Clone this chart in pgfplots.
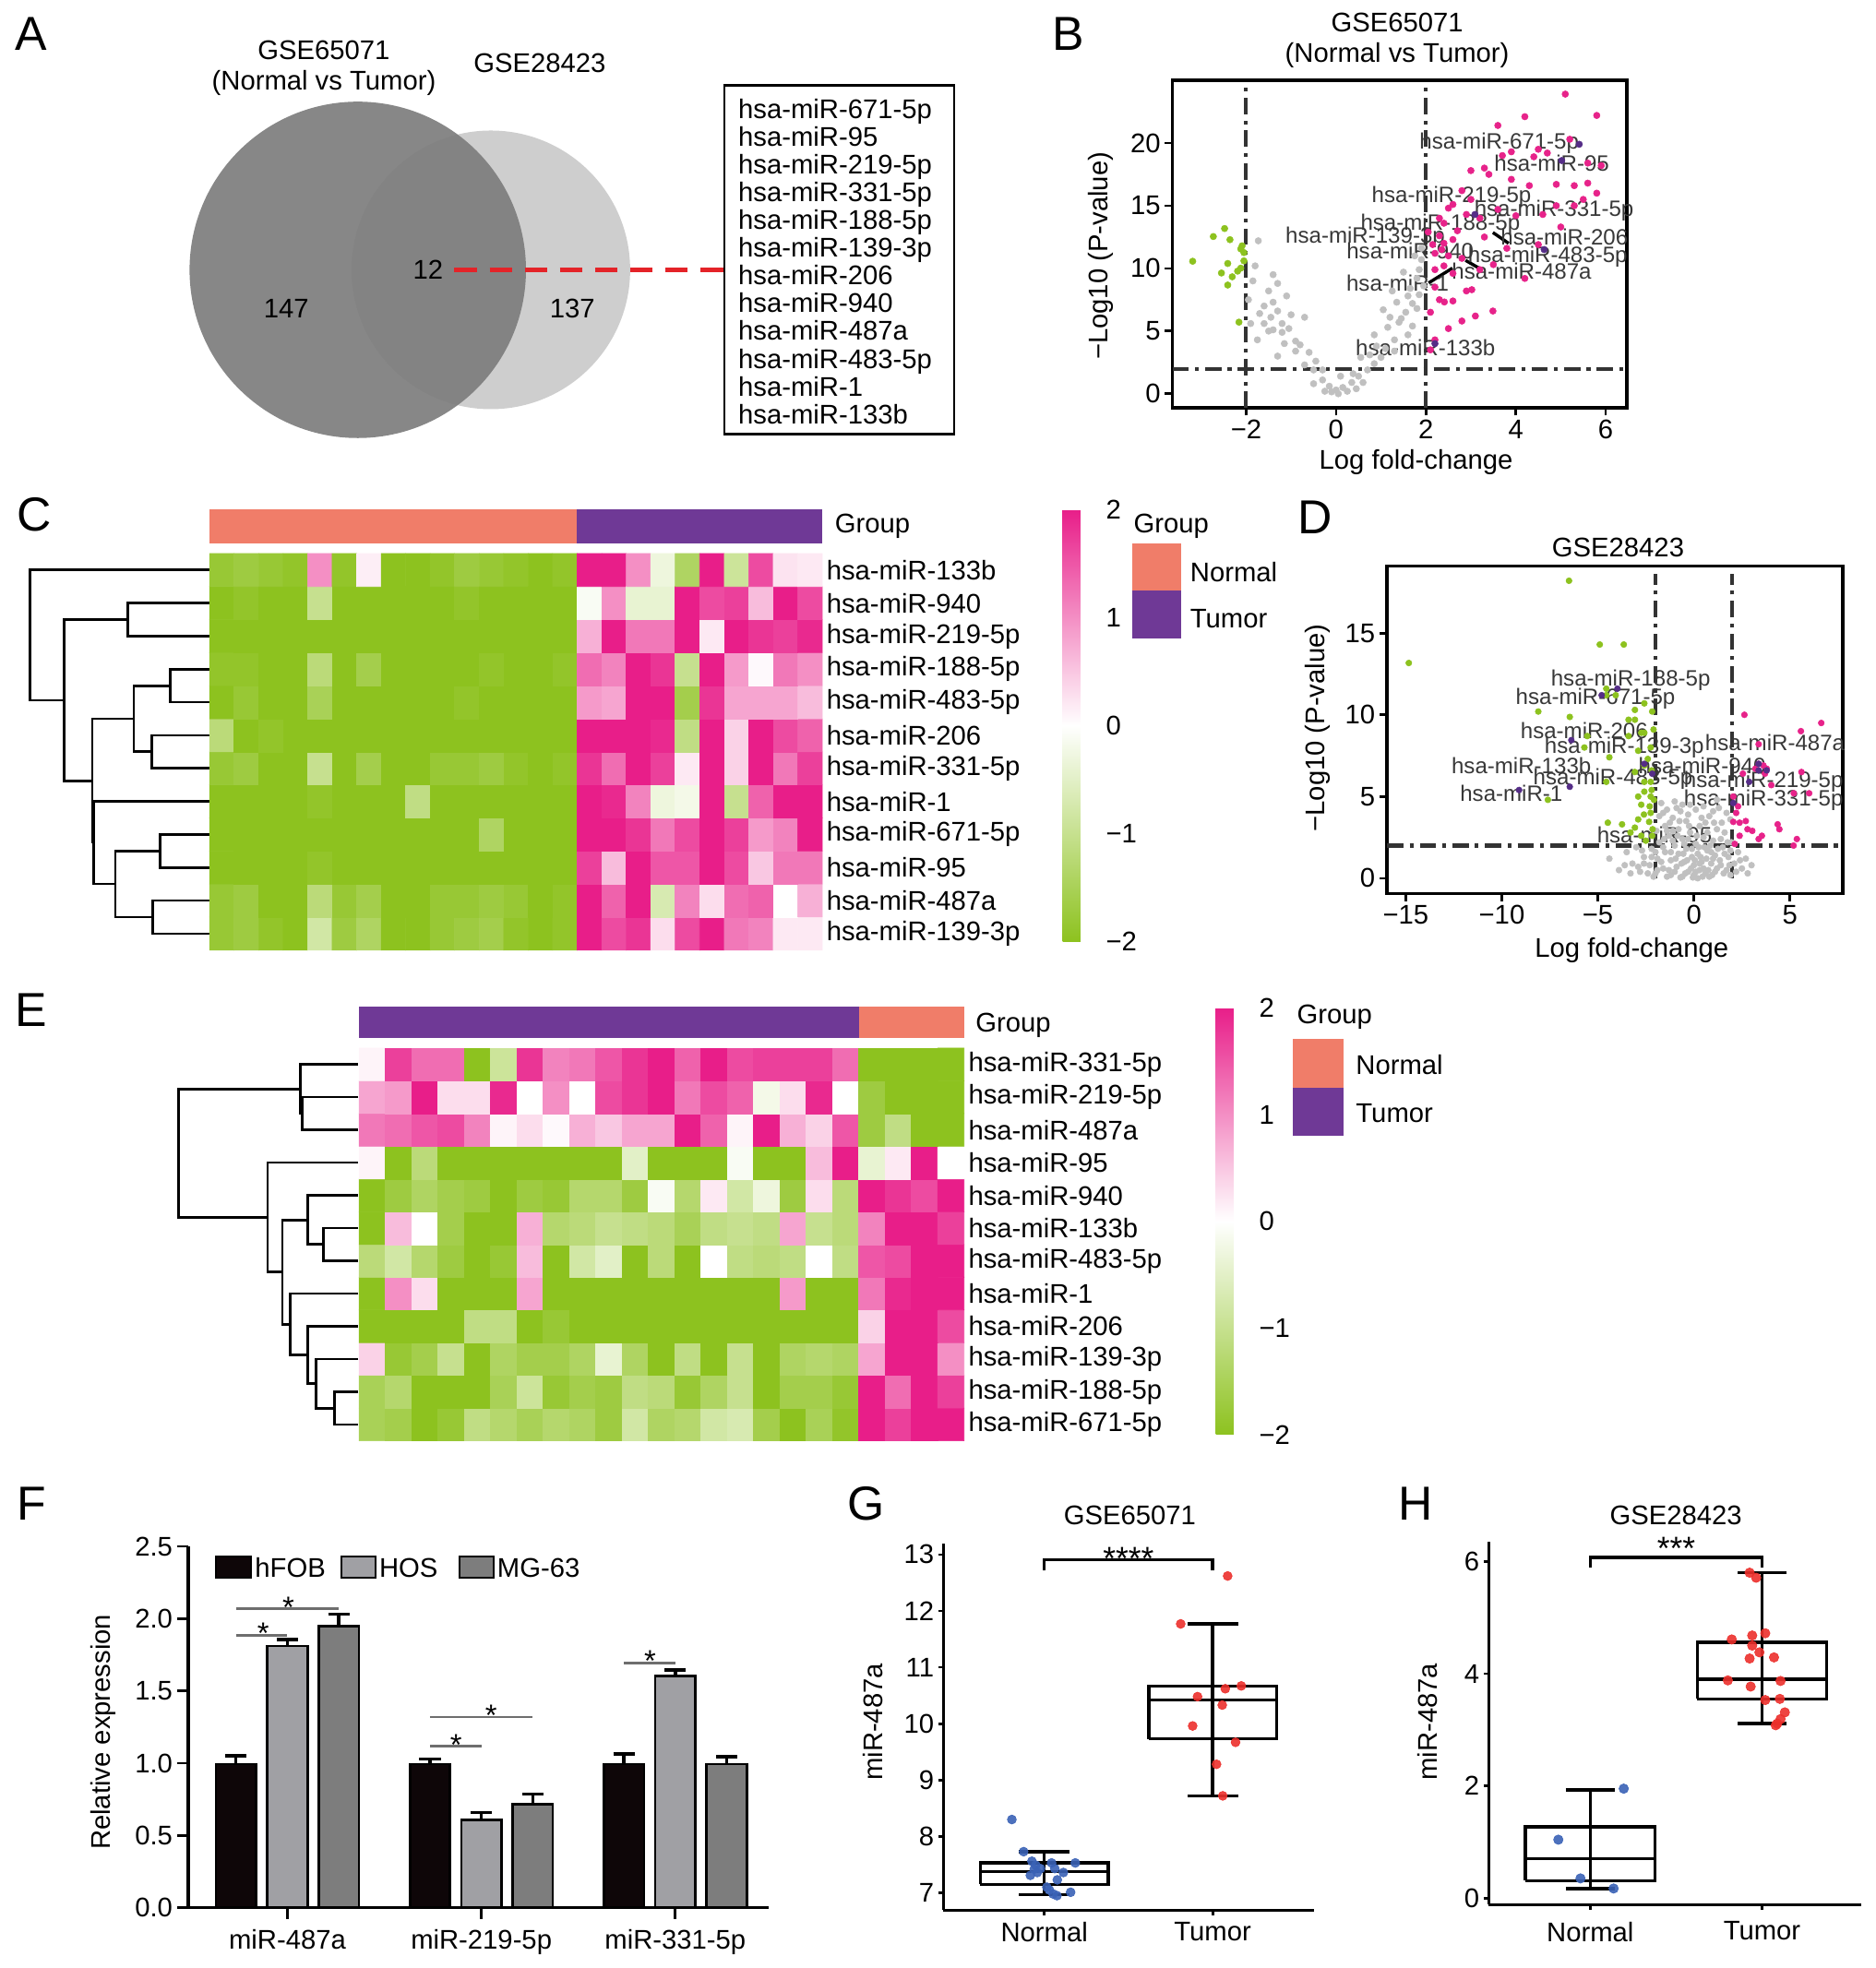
\documentclass[border=0pt]{standalone}
\usepackage{fontspec}
\setmainfont{Liberation Sans}
\usepackage{pgfplots}
\pgfplotsset{compat=1.18}
\definecolor{vgreen}{RGB}{141,194,31}
\definecolor{vmag}{RGB}{231,35,138}
\definecolor{vgray}{RGB}{192,192,192}
\definecolor{vpur}{RGB}{85,45,135}
\definecolor{gsalmon}{RGB}{240,125,105}
\definecolor{gpurple}{RGB}{111,57,150}
\definecolor{ptblue}{RGB}{58,98,182}
\definecolor{ptred}{RGB}{236,48,44}
\definecolor{vdark}{RGB}{126,126,126}
\definecolor{vlight}{RGB}{206,206,206}
\definecolor{venred}{RGB}{228,35,40}
\definecolor{barblack}{RGB}{14,6,8}
\definecolor{barlight}{RGB}{160,160,164}
\definecolor{bardark}{RGB}{125,125,125}
\definecolor{sigline}{RGB}{110,110,110}
\newcommand\fs{\fontsize{21.5}{25}\selectfont}
\newcommand\fl{\fontsize{17.7}{20}\selectfont}
\newcommand\fL{\fontsize{38}{42}\selectfont}
\tikzset{vlab/.style={font=\fl, text=black!78, inner sep=0pt}}
\pgfplotsset{
  myb/.style={scale only axis, anchor=north west,
    /pgf/number format/assume math mode=true,
    tick label style={font=\fs}, label style={font=\fs},
    every tick/.style={black, line width=2pt},
    axis line style={line width=2.5pt}},
  volc/.style={myb, tick align=outside, tick pos=left, major tick length=6pt,
    ylabel={−Log10 (P-value)}, xlabel={Log fold-change}, clip=false},
  dpat/.style={line width=3pt, black!80, dash pattern=on 13pt off 5pt on 3pt off 5pt},
  heat/.style={myb, xmin=0.5, ymin=0.5, ymax=12.5, axis line style={draw=none},
    major tick length=0pt, xtick=\empty, ytick={1,...,12}, yticklabel pos=right,
    yticklabel style={anchor=west, font=\fs},
    colormap={hm}{rgb255=(141,194,31) rgb255=(255,255,255) rgb255=(232,30,137)},
    point meta min=-2, point meta max=2, clip=false, colorbar},
  cbar/.style={scale only axis, width=27pt, y dir=normal,
    ytick={-2,-1,0,1,2}, yticklabels={−2,−1,0,1,2}, yticklabel pos=right,
    yticklabel style={font=\fs, anchor=west, xshift=4pt},
    major tick length=0pt, axis line style={draw=none}, xtick=\empty},
  dend/.style={scale only axis, anchor=north west, hide axis, ymin=0.5, ymax=12.5, xmax=625, clip=false},
  dl/.style={black, line width=2pt},
  bxax/.style={myb, axis x line=bottom, axis y line=left, axis line style={-, line width=2.5pt},
    tick align=outside, major tick length=4pt, xtick={1,2}, xticklabels={Normal,Tumor}, clip=false},
  bl/.style={black, line width=2.5pt},
  ebar/.style={error bars/.cd, y dir=plus, y explicit, error bar style={line width=2.5pt, black},
    error mark options={rotate=90, line width=2.5pt, black, mark size=8.5pt}},
}
\begin{document}
\begin{tikzpicture}
\path[use as bounding box] (0pt,0pt) rectangle (1494pt,-1568pt);

% ---------------- Panel A : Venn ----------------
\begin{axis}[scale only axis, anchor=north west, at={(130pt,-60pt)}, width=390pt, height=310pt,
  xmin=130, xmax=520, ymin=-370, ymax=-60, hide axis, clip=false]
\fill[vlight] (axis cs:391,-215) circle[radius=111pt];
\fill[vdark, opacity=0.93] (axis cs:285,-215) circle[radius=134pt];
\end{axis}
\node[font=\fs] at (258pt,-40pt) {GSE65071};
\node[font=\fs] at (258pt,-66pt) {(Normal vs Tumor)};
\node[font=\fs] at (430pt,-50pt) {GSE28423};
\node[font=\fs] at (228pt,-246pt) {147};
\node[font=\fs] at (341pt,-215pt) {12};
\node[font=\fs] at (456pt,-246pt) {137};
\draw[venred, line width=3pt, dash pattern=on 18pt off 10pt] (362pt,-215pt) -- (577pt,-215pt);
\draw[line width=2pt] (577pt,-68pt) rectangle (760pt,-346pt);
\foreach \t [count=\i from 0] in {hsa-miR-671-5p,hsa-miR-95,hsa-miR-219-5p,hsa-miR-331-5p,hsa-miR-188-5p,hsa-miR-139-3p,hsa-miR-206,hsa-miR-940,hsa-miR-487a,hsa-miR-483-5p,hsa-miR-1,hsa-miR-133b}
  \node[font=\fs, anchor=base west, inner sep=0pt] at (588pt,{-94.5pt-22.09pt*\i}) {\t};

% ---------------- Panel B : volcano GSE65071 ----------------
\node[font=\fs] at (1113pt,-18pt) {GSE65071};
\node[font=\fs] at (1113pt,-44pt) {(Normal vs Tumor)};
\begin{axis}[volc, at={(934pt,-64pt)}, width=362pt, height=261pt,
  xmin=-3.64, xmax=6.47, ymin=-1.13, ymax=25.0,
  xtick={-2,0,2,4,6}, xticklabels={−2,0,2,4,6}, ytick={0,5,10,15,20},
  xlabel style={at={(axis description cs:0.536,-0.165)}, anchor=center},
  ylabel style={at={(axis description cs:-0.157,0.464)}, anchor=center}]
\addplot[only marks, mark=*, mark size=2.6pt, vgray, mark options={draw=none}] coordinates {
(-1.73,12.2) (-1.8,10.2) (-1.4,9.5) (-1.3,8.8) (-1.5,8.2) (-1.1,7.8) (-1.4,7.3) (-1.3,6.6) (-1.7,6.4) (-1.0,6.3) (-0.7,6.1) (-1.6,5.6) (-1.4,5.1) (-1.2,4.9) (-0.9,4.2) (-0.8,3.9) (-0.6,3.3) (-0.7,2.3) (-0.5,1.9) (-0.3,1.1) (-0.15,0.6) (0,0.3) (0.15,0.5) (0.35,0.9) (0.5,1.4) (0.7,1.9) (0.85,2.4) (1.0,2.9) (1.1,3.6) (1.3,4.3) (1.15,5.3) (1.4,5.7) (1.55,6.5) (1.7,7.2) (1.85,7.9) (1.65,8.4) (1.8,9.2) (1.85,9.9) (1.9,10.7) (1.5,9.7) (1.25,8.2) (1.05,6.7) (0.85,4.7) (0.55,2.9) (0.38,1.6) (0.1,1.4) (-0.3,1.9) (-0.45,2.6) (-0.9,3.4) (-1.15,4.0) (-1.5,5.0) (-1.75,4.3) (-1.9,5.6) (-1.95,7.5) (-1.6,7.0) (1.6,4.7) (1.3,3.4) (0.9,3.8) (1.7,5.4) (-1.2,5.6) (0.05,0.0) (-0.1,0.15) (0.25,0.2) (0.6,0.9) (-0.5,0.8) (1.9,11.6) (1.75,11.0) (1.95,8.6) (-1.85,9.0) (-1.3,3.0) (1.45,6.0) (1.6,7.8) (1.2,6.1) (0.75,3.1) (-1.05,5.2) (-1.45,6.1) (-0.25,0.2) (0.45,0.4) (1.8,6.8) (1.35,7.3)};
\addplot[only marks, mark=*, mark size=2.6pt, vgreen, mark options={draw=none}] coordinates {
(-2.73,12.54) (-2.48,13.18) (-2.36,12.29) (-2.12,11.55) (-2.05,11.26) (-3.19,10.57) (-2.41,10.39) (-2.55,9.63) (-2.31,9.33) (-2.41,8.67) (-2.12,10.02) (-2.16,5.71) (-2.09,11.8) (-2.19,9.78) (-2.05,10.6)};
\addplot[only marks, mark=*, mark size=2.6pt, vmag, mark options={draw=none}] coordinates {
(5.1,23.9) (4.2,22.1) (5.8,22.2) (3.6,21.4) (5.2,20.3) (4.5,19.5) (3.9,19.3) (3.3,18.0) (3.7,19.0) (4.4,18.9) (4.7,19.2) (5.9,18.2) (5.6,18.4) (3.4,17.5) (3.0,17.8) (3.9,17.1) (4.3,16.6) (4.9,16.7) (5.3,16.6) (5.6,16.8) (5.8,16.0) (5.5,15.5) (5.3,15.0) (2.8,16.2) (3.0,15.5) (2.6,15.1) (2.5,14.8) (2.9,14.3) (3.2,14.0) (3.6,14.7) (4.0,14.2) (4.6,14.3) (5.0,13.3) (2.4,13.6) (2.7,13.0) (2.3,12.6) (2.6,12.3) (3.3,12.5) (3.8,11.6) (4.5,11.9) (2.2,11.2) (2.5,11.0) (2.8,10.8) (2.4,10.2) (2.2,9.9) (2.6,9.6) (3.2,9.9) (4.2,9.2) (3.5,10.3) (2.9,8.2) (2.3,7.5) (2.6,7.4) (2.1,6.5) (3.1,6.2) (2.5,5.2) (2.8,5.8) (2.2,4.3) (2.1,3.5) (2.2,8.5) (2.4,12.0) (2.15,11.9) (2.35,11.5) (2.05,12.9) (3.49,6.6) (3.02,8.3) (2.41,7.32) (2.3,14.0) (4.9,15.0)};
\addplot[only marks, mark=*, mark size=2.6pt, vpur, mark options={draw=none}] coordinates {
(5.41,19.9) (5.02,18.6) (3.09,14.3) (4.63,11.5) (2.2,4.0)};
\addplot[dpat] coordinates {(-2,-1.13) (-2,24.6)};
\addplot[dpat] coordinates {(2,-1.13) (2,24.6)};
\addplot[dpat] coordinates {(-3.64,2) (6.47,2)};
\draw[black, line width=2.5pt] (axis cs:3.49,12.86) -- (axis cs:3.84,12.0);
\draw[black, line width=2.5pt] (axis cs:2.88,10.64) -- (axis cs:3.2,9.98);
\draw[black, line width=2.5pt] (axis cs:2.06,8.84) -- (axis cs:2.59,10.02);
\node[vlab] at (axis cs:3.63,20.0) {hsa-miR-671-5p};
\node[vlab] at (axis cs:4.80,18.4) {hsa-miR-95};
\node[vlab] at (axis cs:2.57,15.7) {hsa-miR-219-5p};
\node[vlab] at (axis cs:4.85,14.6) {hsa-miR-331-5p};
\node[vlab] at (axis cs:2.32,13.5) {hsa-miR-188-5p};
\node[vlab] at (axis cs:0.65,12.5) {hsa-miR-139-3p};
\node[vlab] at (axis cs:5.08,12.5) {hsa-miR-206};
\node[vlab] at (axis cs:1.65,11.4) {hsa-miR-940};
\node[vlab] at (axis cs:4.71,10.9) {hsa-miR-483-5p};
\node[vlab] at (axis cs:4.13,9.75) {hsa-miR-487a};
\node[vlab] at (axis cs:1.37,8.8) {hsa-miR-1};
\node[vlab] at (axis cs:1.99,3.7) {hsa-miR-133b};
\end{axis}

% ---------------- Panel C : heatmap GSE65071 ----------------
\begin{axis}[dend, at={(24pt,-441pt)}, width=143.7pt, height=316pt, xmin=38]
\addplot[dl] coordinates {(625,12) (38,12) (38,8.06) (148,8.06)};
\addplot[dl] coordinates {(355,10.51) (148,10.51) (148,5.61) (240,5.61)};
\addplot[dl] coordinates {(625,11) (355,11) (355,10) (625,10)};
\addplot[dl] coordinates {(375,7.5) (240,7.5) (240,3.76) (245,3.76)};
\addplot[dl] coordinates {(495,8.5) (375,8.5) (375,6.5) (433,6.5)};
\addplot[dl] coordinates {(625,9) (495,9) (495,8) (625,8)};
\addplot[dl] coordinates {(625,7) (433,7) (433,6) (625,6)};
\addplot[dl] coordinates {(625,5) (245,5) (245,2.5) (315,2.5)};
\addplot[dl] coordinates {(460,3.5) (315,3.5) (315,1.5) (437,1.5)};
\addplot[dl] coordinates {(625,4) (460,4) (460,3) (625,3)};
\addplot[dl] coordinates {(625,2) (437,2) (437,1) (625,1)};
\end{axis}
\begin{axis}[heat, at={(167pt,-441pt)}, width=488pt, height=316pt, xmax=25.5,
  yticklabels={hsa-miR-139-3p,hsa-miR-487a,hsa-miR-95,hsa-miR-671-5p,hsa-miR-1,hsa-miR-331-5p,hsa-miR-206,hsa-miR-483-5p,hsa-miR-188-5p,hsa-miR-219-5p,hsa-miR-940,hsa-miR-133b},
  colorbar style={cbar, at={(parent axis.north east)}, anchor=north west, xshift=183pt, yshift=35pt, height=344pt}]
\addplot[matrix plot*, mesh/cols=25, point meta=explicit] table[meta=c, row sep=\\]{
x y c\\
1 1 -1.8\\2 1 -1.7\\3 1 -1.9\\4 1 -2\\5 1 -0.8\\6 1 -1.7\\7 1 -1.4\\8 1 -2\\9 1 -2\\10 1 -1.8\\11 1 -1.7\\12 1 -1.6\\13 1 -1.9\\14 1 -2\\15 1 -1.9\\16 1 2\\17 1 1.6\\18 1 1.8\\19 1 0.3\\20 1 1.6\\21 1 2\\22 1 1.2\\23 1 1.1\\24 1 0.2\\25 1 0.2\\
1 2 -1.8\\2 2 -1.7\\3 2 -2\\4 2 -2\\5 2 -1.2\\6 2 -1.8\\7 2 -1.6\\8 2 -2\\9 2 -2\\10 2 -1.8\\11 2 -1.8\\12 2 -1.7\\13 2 -1.8\\14 2 -2\\15 2 -1.9\\16 2 2\\17 2 1.4\\18 2 2\\19 2 -0.7\\20 2 1.1\\21 2 0.3\\22 2 1.3\\23 2 1.4\\24 2 0\\25 2 0.7\\
1 3 -2\\2 3 -2\\3 3 -2\\4 3 -2\\5 3 -1.9\\6 3 -2\\7 3 -2\\8 3 -2\\9 3 -2\\10 3 -2\\11 3 -2\\12 3 -2\\13 3 -2\\14 3 -2\\15 3 -2\\16 3 1.7\\17 3 0.6\\18 3 2\\19 3 1.5\\20 3 1.5\\21 3 2\\22 3 1.6\\23 3 0.5\\24 3 1.2\\25 3 1.2\\
1 4 -2\\2 4 -2\\3 4 -2\\4 4 -2\\5 4 -2\\6 4 -2\\7 4 -2\\8 4 -2\\9 4 -2\\10 4 -2\\11 4 -2\\12 4 -1.4\\13 4 -2\\14 4 -2\\15 4 -2\\16 4 2\\17 4 2\\18 4 1.8\\19 4 1.2\\20 4 1.6\\21 4 2\\22 4 1.7\\23 4 0.9\\24 4 1.1\\25 4 2\\
1 5 -2\\2 5 -2\\3 5 -2\\4 5 -2\\5 5 -1.9\\6 5 -2\\7 5 -2\\8 5 -2\\9 5 -1.1\\10 5 -2\\11 5 -2\\12 5 -2\\13 5 -2\\14 5 -2\\15 5 -2\\16 5 2\\17 5 1.9\\18 5 1.1\\19 5 -0.3\\20 5 -0.2\\21 5 2\\22 5 -1.0\\23 5 1.4\\24 5 2\\25 5 2\\
1 6 -1.8\\2 6 -1.7\\3 6 -2\\4 6 -2\\5 6 -1.0\\6 6 -2\\7 6 -1.6\\8 6 -2\\9 6 -2\\10 6 -1.8\\11 6 -1.8\\12 6 -1.7\\13 6 -1.9\\14 6 -2\\15 6 -1.9\\16 6 1.8\\17 6 1.3\\18 6 2\\19 6 1.7\\20 6 0.2\\21 6 2\\22 6 0.4\\23 6 2\\24 6 1.2\\25 6 1.7\\
1 7 -1.2\\2 7 -2\\3 7 -1.9\\4 7 -2\\5 7 -2\\6 7 -2\\7 7 -2\\8 7 -2\\9 7 -2\\10 7 -2\\11 7 -2\\12 7 -2\\13 7 -2\\14 7 -2\\15 7 -2\\16 7 2\\17 7 2\\18 7 2\\19 7 1.9\\20 7 -1.1\\21 7 2\\22 7 0.4\\23 7 2\\24 7 1.6\\25 7 1.4\\
1 8 -2\\2 8 -1.8\\3 8 -2\\4 8 -2\\5 8 -1.5\\6 8 -2\\7 8 -2\\8 8 -2\\9 8 -2\\10 8 -2\\11 8 -1.9\\12 8 -2\\13 8 -2\\14 8 -2\\15 8 -2\\16 8 0.9\\17 8 0.8\\18 8 2\\19 8 2\\20 8 -1.6\\21 8 1.8\\22 8 0.8\\23 8 0.8\\24 8 0.8\\25 8 0.6\\
1 9 -1.9\\2 9 -1.9\\3 9 -2\\4 9 -2\\5 9 -1.2\\6 9 -2\\7 9 -1.6\\8 9 -2\\9 9 -2\\10 9 -2\\11 9 -2\\12 9 -1.9\\13 9 -2\\14 9 -2\\15 9 -1.9\\16 9 1.3\\17 9 1.1\\18 9 2\\19 9 1.8\\20 9 -1.0\\21 9 2\\22 9 0.9\\23 9 0.05\\24 9 1.2\\25 9 1.0\\
1 10 -2\\2 10 -2\\3 10 -2\\4 10 -2\\5 10 -2\\6 10 -2\\7 10 -2\\8 10 -2\\9 10 -2\\10 10 -2\\11 10 -2\\12 10 -2\\13 10 -2\\14 10 -2\\15 10 -2\\16 10 0.7\\17 10 2\\18 10 1.2\\19 10 1.2\\20 10 2\\21 10 0.2\\22 10 2\\23 10 1.8\\24 10 1.7\\25 10 1.9\\
1 11 -2\\2 11 -1.9\\3 11 -2\\4 11 -2\\5 11 -1.0\\6 11 -2\\7 11 -2\\8 11 -2\\9 11 -2\\10 11 -2\\11 11 -1.9\\12 11 -2\\13 11 -2\\14 11 -2\\15 11 -2\\16 11 -0.1\\17 11 1.0\\18 11 -0.4\\19 11 -0.4\\20 11 2\\21 11 1.6\\22 11 1.7\\23 11 0.6\\24 11 2\\25 11 1.6\\
1 12 -1.8\\2 12 -1.7\\3 12 -1.8\\4 12 -1.9\\5 12 1.0\\6 12 -1.9\\7 12 0.15\\8 12 -2\\9 12 -2\\10 12 -1.9\\11 12 -1.7\\12 12 -1.8\\13 12 -1.9\\14 12 -2\\15 12 -1.9\\16 12 2\\17 12 2\\18 12 1.0\\19 12 -0.3\\20 12 -1.4\\21 12 2\\22 12 -0.9\\23 12 1.6\\24 12 0.25\\25 12 0.2\\
};
\fill[gsalmon] (axis cs:0.5,12.80) rectangle (axis cs:15.5,13.83);
\fill[gpurple] (axis cs:15.5,12.80) rectangle (axis cs:25.5,13.83);
\end{axis}
\node[font=\fs, anchor=west, inner sep=0pt] at (665pt,-419pt) {Group};
\node[font=\fs, anchor=west, inner sep=0pt] at (903pt,-419pt) {Group};
\fill[gsalmon] (902pt,-433pt) rectangle (941pt,-470.6pt);
\fill[gpurple] (902pt,-470.6pt) rectangle (941pt,-508.6pt);
\node[font=\fs, anchor=west, inner sep=0pt] at (948pt,-456pt) {Normal};
\node[font=\fs, anchor=west, inner sep=0pt] at (948pt,-492.6pt) {Tumor};

% ---------------- Panel D : volcano GSE28423 ----------------
\node[font=\fs] at (1289pt,-436pt) {GSE28423};
\begin{axis}[volc, at={(1105pt,-451pt)}, width=363pt, height=261pt,
  xmin=-15.97, xmax=7.75, ymin=-0.94, ymax=19.1,
  xtick={-15,-10,-5,0,5}, xticklabels={−15,−10,−5,0,5}, ytick={0,5,10,15},
  xlabel style={at={(axis description cs:0.537,-0.172)}, anchor=center},
  ylabel style={at={(axis description cs:-0.152,0.506)}, anchor=center}]
\addplot[only marks, mark=*, mark size=2.4pt, vgray, mark options={draw=none}] coordinates {
(-4.4,1.2) (-3.9,0.5) (-3.5,1.6) (-3.2,0.9) (-3.0,1.9) (-2.8,0.4) (-2.6,1.3) (-2.3,0.8) (-2.2,1.8) (-2.0,0.3) (-1.95,2.9) (-1.9,1.2) (-1.8,3.8) (-1.8,2.2) (-1.7,4.6) (-1.6,0.6) (-1.5,1.6) (-1.5,3.2) (-1.4,4.2) (-1.3,2.6) (-1.2,0.2) (-1.2,1.1) (-1.1,3.7) (-1.0,2.0) (-1.0,4.7) (-0.9,0.7) (-0.8,1.5) (-0.8,3.0) (-0.7,4.1) (-0.6,0.1) (-0.6,2.4) (-0.5,1.0) (-0.4,3.5) (-0.4,1.8) (-0.3,0.4) (-0.2,2.8) (-0.1,1.3) (0,0.2) (0,0.8) (0.1,2.1) (0.2,1.5) (0.3,0.5) (0.3,3.2) (0.4,1.0) (0.5,2.5) (0.6,0.3) (0.7,1.7) (0.8,3.8) (0.9,0.9) (1.0,2.3) (1.1,0.4) (1.1,1.4) (1.2,3.0) (1.3,4.3) (1.4,0.8) (1.5,1.9) (1.6,2.8) (1.7,0.5) (1.8,1.3) (1.9,3.6) (1.95,2.2) (2.1,0.9) (2.3,1.6) (2.5,0.6) (2.7,1.2) (3.0,0.8) (1.7,4.0) (0.5,4.4) (-0.2,4.5) (1.4,2.4) (-2.9,0.7) (-1.4,0.1) (0.8,0.1) (-0.7,0.05) (0.2,0.0) (1.9,0.2) (-2.1,0.1) (2.8,0.3) (-1.1,2.9) (0.9,1.6) (-0.3,3.9) (0.6,3.4) (1.2,4.8) (-1.6,4.0)
(-2.4,0.3) (-2.6,0.9) (-2.2,1.3) (-1.9,0.5) (-1.7,1.0) (-1.6,1.9) (-1.3,0.5) (-1.2,1.6) (-1.1,2.3) (-1.0,0.4) (-0.95,1.2) (-0.85,2.6) (-0.75,3.5) (-0.65,0.9) (-0.55,1.5) (-0.5,2.1) (-0.45,0.3) (-0.35,1.1) (-0.3,2.4) (-0.25,3.2) (-0.15,0.6) (-0.1,1.8) (-0.05,0.05) (0.05,1.1) (0.1,0.4) (0.15,2.6) (0.25,1.9) (0.3,0.9) (0.35,1.3) (0.45,0.1) (0.5,0.6) (0.55,1.9) (0.65,1.2) (0.7,2.8) (0.75,0.5) (0.85,2.0) (0.95,0.2) (1.0,1.2) (1.05,3.4) (1.2,0.6) (1.25,1.8) (1.35,1.1) (1.45,3.4) (1.55,0.3) (1.6,1.5) (1.75,2.2) (1.85,0.8) (1.9,1.7) (2.2,0.4) (2.4,1.1) (-1.4,2.9) (-1.25,3.4) (-1.55,2.4) (-0.9,4.3) (-0.6,4.5) (0.1,4.2) (0.4,3.7) (1.0,4.1) (-2.0,1.6) (-3.3,0.3) (-2.7,1.7) (-3.6,0.8)};
\addplot[only marks, mark=*, mark size=2.4pt, vgreen, mark options={draw=none}] coordinates {
(-14.84,13.17) (-6.5,18.2) (-4.9,14.3) (-3.65,14.3) (-8.1,10.2) (-6.46,9.87) (-4.56,11.6) (-4.07,11.2) (-3.07,10.3) (-2.58,10.7) (-2.17,10.2) (-3.07,9.7) (-2.74,8.9) (-3.4,8.7) (-5.55,8.7) (-5.7,8.0) (-4.4,7.4) (-2.9,7.8) (-2.58,6.9) (-3.07,6.5) (-4.56,5.9) (-2.25,5.9) (-2.58,5.3) (-2.08,4.8) (-2.74,4.5) (-2.25,4.0) (-2.9,3.6) (-2.33,3.45) (-4.48,3.4) (-3.74,3.3) (-3.07,3.1) (-7.6,4.8) (-2.58,8.9) (-2.25,8.0) (-3.4,9.7) (-4.56,11.2) (-2.58,5.9) (-2.25,5.0) (-2.74,2.6) (-2.17,2.6) (-2.4,7.3) (-2.2,6.6) (-2.1,9.1) (-2.9,5.0) (-2.3,4.4) (-2.6,3.9) (-2.15,3.0) (-2.5,2.3) (-3.3,2.8) (-2.2,5.4)};
\addplot[only marks, mark=*, mark size=2.4pt, vmag, mark options={draw=none}] coordinates {
(2.63,10.0) (5.57,9.0) (6.63,9.5) (3.37,8.2) (3.37,7.0) (3.62,6.9) (3.79,6.7) (2.55,6.4) (4.03,5.7) (5.6,6.5) (6.0,5.2) (5.2,5.2) (2.2,4.0) (2.05,5.0) (2.7,3.5) (3.04,2.9) (3.37,2.4) (2.38,2.6) (4.45,3.0) (5.36,2.4) (5.19,2.0) (2.13,2.1) (2.38,3.4) (2.79,3.0) (3.54,2.6) (2.05,3.45) (2.3,4.4) (4.36,3.3) (3.7,6.4) (3.2,6.7)};
\addplot[only marks, mark=*, mark size=2.4pt, vpur, mark options={draw=none}] coordinates {
(-6.38,8.45) (-4.8,11.2) (-3.98,11.6) (-6.46,5.6) (-9.1,5.4) (-2.58,7.0) (-2.17,6.4) (3.37,6.6) (3.79,6.6) (2.88,5.9) (2.05,4.6) (3.37,7.0)};
\addplot[dpat] coordinates {(-2,0) (-2,18.6)};
\addplot[dpat] coordinates {(2,0) (2,18.6)};
\addplot[dpat] coordinates {(-15.97,2) (7.75,2)};
\node[vlab] at (axis cs:-3.29,12.1) {hsa-miR-188-5p};
\node[vlab] at (axis cs:-5.12,10.97) {hsa-miR-671-5p};
\node[vlab] at (axis cs:-5.71,9.05) {hsa-miR-206};
\node[vlab] at (axis cs:-3.62,7.97) {hsa-miR-139-3p};
\node[vlab] at (axis cs:4.22,8.28) {hsa-miR-487a};
\node[vlab] at (axis cs:-8.98,6.9) {hsa-miR-133b};
\node[vlab] at (axis cs:0.43,6.9) {hsa-miR-940};
\node[vlab] at (axis cs:-4.21,6.05) {hsa-miR-483-5p};
\node[vlab] at (axis cs:3.63,5.9) {hsa-miR-219-5p};
\node[vlab] at (axis cs:-9.5,5.2) {hsa-miR-1};
\node[vlab] at (axis cs:3.63,4.75) {hsa-miR-331-5p};
\node[vlab] at (axis cs:-2.05,2.67) {hsa-miR-95};
\end{axis}

% ---------------- Panel E : heatmap GSE28423 ----------------
\begin{axis}[dend, at={(142.2pt,-835pt)}, width=143.2pt, height=313pt, xmin=40]
\addplot[dl] coordinates {(437,11.25) (40,11.25) (40,7.33) (330,7.33)};
\addplot[dl] coordinates {(625,12) (437,12) (437,10.5) (443,10.5)};
\addplot[dl] coordinates {(625,11) (443,11) (443,10) (625,10)};
\addplot[dl] coordinates {(625,9) (330,9) (330,5.66) (378,5.66)};
\addplot[dl] coordinates {(460,7.25) (378,7.25) (378,4.06) (403,4.06)};
\addplot[dl] coordinates {(625,8) (460,8) (460,6.5) (512,6.5)};
\addplot[dl] coordinates {(625,7) (512,7) (512,6) (625,6)};
\addplot[dl] coordinates {(625,5) (403,5) (403,3.125) (460,3.125)};
\addplot[dl] coordinates {(625,4) (460,4) (460,2.25) (487,2.25)};
\addplot[dl] coordinates {(625,3) (487,3) (487,1.5) (548,1.5)};
\addplot[dl] coordinates {(625,2) (548,2) (548,1) (625,1)};
\end{axis}
\begin{axis}[heat, at={(286pt,-835pt)}, width=482pt, height=313pt, xmax=23.5,
  yticklabels={hsa-miR-671-5p,hsa-miR-188-5p,hsa-miR-139-3p,hsa-miR-206,hsa-miR-1,hsa-miR-483-5p,hsa-miR-133b,hsa-miR-940,hsa-miR-95,hsa-miR-487a,hsa-miR-219-5p,hsa-miR-331-5p},
  colorbar style={cbar, at={(parent axis.north east)}, anchor=north west, xshift=192pt, yshift=32pt, height=340pt}]
\addplot[matrix plot*, mesh/cols=23, point meta=explicit] table[meta=c, row sep=\\]{
x y c\\
1 1 -1.5\\2 1 -1.6\\3 1 -2\\4 1 -1.8\\5 1 -1.1\\6 1 -1.3\\7 1 -1.5\\8 1 -1.3\\9 1 -1.4\\10 1 -1.7\\11 1 -0.8\\12 1 -1.4\\13 1 -1.3\\14 1 -0.8\\15 1 -0.7\\16 1 -1.6\\17 1 -2\\18 1 -1.5\\19 1 -1.9\\20 1 2\\21 1 1.7\\22 1 2\\23 1 2\\
1 2 -1.5\\2 2 -1.3\\3 2 -2\\4 2 -2\\5 2 -2\\6 2 -1.5\\7 2 -0.9\\8 2 -1.8\\9 2 -1.6\\10 2 -1.7\\11 2 -1.1\\12 2 -1.2\\13 2 -1.8\\14 2 -1.4\\15 2 -1.0\\16 2 -2\\17 2 -1.6\\18 2 -1.6\\19 2 -1.8\\20 2 2\\21 2 1.3\\22 2 2\\23 2 1.7\\
1 3 0.4\\2 3 -1.8\\3 3 -1.6\\4 3 -1.0\\5 3 -2\\6 3 -1.4\\7 3 -1.6\\8 3 -1.6\\9 3 -1.4\\10 3 -0.4\\11 3 -1.4\\12 3 -2\\13 3 -1.1\\14 3 -2\\15 3 -1.0\\16 3 -2\\17 3 -1.4\\18 3 -1.3\\19 3 -1.4\\20 3 0.8\\21 3 2\\22 3 2\\23 3 1.0\\
1 4 -2\\2 4 -2\\3 4 -2\\4 4 -2\\5 4 -1.1\\6 4 -1.1\\7 4 -2\\8 4 -1.8\\9 4 -2\\10 4 -2\\11 4 -2\\12 4 -2\\13 4 -2\\14 4 -2\\15 4 -2\\16 4 -2\\17 4 -2\\18 4 -2\\19 4 -2\\20 4 0.4\\21 4 2\\22 4 2\\23 4 1.6\\
1 5 -2\\2 5 1.0\\3 5 0.3\\4 5 -2\\5 5 -2\\6 5 -2\\7 5 0.8\\8 5 -2\\9 5 -2\\10 5 -2\\11 5 -2\\12 5 -2\\13 5 -2\\14 5 -2\\15 5 -2\\16 5 -2\\17 5 0.9\\18 5 -2\\19 5 -2\\20 5 1.2\\21 5 1.9\\22 5 2\\23 5 2\\
1 6 -1.2\\2 6 -0.8\\3 6 -1.3\\4 6 -1.7\\5 6 -2\\6 6 -1.8\\7 6 0.6\\8 6 -2\\9 6 -0.8\\10 6 -0.5\\11 6 -2\\12 6 -1.2\\13 6 -2\\14 6 0.0\\15 6 -1.1\\16 6 -1.2\\17 6 -1.1\\18 6 0.0\\19 6 -1.1\\20 6 1.5\\21 6 1.6\\22 6 2\\23 6 2\\
1 7 -2\\2 7 0.6\\3 7 0.0\\4 7 -1.6\\5 7 -2\\6 7 -2\\7 7 0.7\\8 7 -1.3\\9 7 -1.2\\10 7 -1.0\\11 7 -1.1\\12 7 -1.2\\13 7 -1.5\\14 7 -1.1\\15 7 -1.0\\16 7 -1.1\\17 7 0.8\\18 7 -1.0\\19 7 -1.2\\20 7 1.1\\21 7 2\\22 7 2\\23 7 1.7\\
1 8 -2\\2 8 -1.7\\3 8 -1.4\\4 8 -1.6\\5 8 -1.7\\6 8 -2\\7 8 -1.7\\8 8 -1.8\\9 8 -1.3\\10 8 -1.3\\11 8 -1.7\\12 8 -0.1\\13 8 -1.3\\14 8 0.2\\15 8 -0.8\\16 8 -0.3\\17 8 -1.7\\18 8 0.3\\19 8 -1.2\\20 8 2\\21 8 1.8\\22 8 1.6\\23 8 2\\
1 9 0.1\\2 9 -2\\3 9 -1.2\\4 9 -2\\5 9 -2\\6 9 -2\\7 9 -2\\8 9 -2\\9 9 -2\\10 9 -2\\11 9 -0.5\\12 9 -2\\13 9 -2\\14 9 -2\\15 9 -0.1\\16 9 -2\\17 9 -2\\18 9 0.6\\19 9 2\\20 9 -0.4\\21 9 0.2\\22 9 2\\23 9 0.0\\
1 10 1.2\\2 10 1.3\\3 10 1.5\\4 10 1.6\\5 10 1.1\\6 10 0.1\\7 10 0.3\\8 10 0.05\\9 10 0.7\\10 10 0.5\\11 10 0.8\\12 10 0.8\\13 10 2\\14 10 1.4\\15 10 0.1\\16 10 2\\17 10 0.7\\18 10 0.4\\19 10 1.5\\20 10 -1.7\\21 10 -1.1\\22 10 -2\\23 10 -2\\
1 11 0.8\\2 11 0.9\\3 11 2\\4 11 0.3\\5 11 0.3\\6 11 1.9\\7 11 0.0\\8 11 1.0\\9 11 0.0\\10 11 1.6\\11 11 1.8\\12 11 2\\13 11 1.2\\14 11 1.6\\15 11 1.4\\16 11 -0.2\\17 11 0.3\\18 11 1.9\\19 11 0.0\\20 11 -1.7\\21 11 -2\\22 11 -2\\23 11 -2\\
1 12 0.1\\2 12 1.7\\3 12 1.3\\4 12 1.3\\5 12 -2\\6 12 -0.9\\7 12 1.8\\8 12 1.1\\9 12 1.2\\10 12 1.5\\11 12 1.8\\12 12 2\\13 12 1.4\\14 12 2\\15 12 1.6\\16 12 1.7\\17 12 1.7\\18 12 1.7\\19 12 1.3\\20 12 -2\\21 12 -2\\22 12 -2\\23 12 -2\\
};
\fill[gpurple] (axis cs:0.5,12.81) rectangle (axis cs:19.5,13.77);
\fill[gsalmon] (axis cs:19.5,12.81) rectangle (axis cs:23.5,13.77);
\end{axis}
\node[font=\fs, anchor=west, inner sep=0pt] at (777pt,-817pt) {Group};
\node[font=\fs, anchor=west, inner sep=0pt] at (1033pt,-810pt) {Group};
\fill[gsalmon] (1030pt,-828pt) rectangle (1070pt,-867pt);
\fill[gpurple] (1030pt,-867pt) rectangle (1070pt,-905pt);
\node[font=\fs, anchor=west, inner sep=0pt] at (1080pt,-848pt) {Normal};
\node[font=\fs, anchor=west, inner sep=0pt] at (1080pt,-887pt) {Tumor};

% ---------------- Panel F : bar chart ----------------
\begin{axis}[myb, at={(150pt,-1232pt)}, width=462pt, height=288pt,
  xmin=-0.511, xmax=2.479, ymin=0, ymax=2.5,
  axis x line=bottom, axis y line=left, axis line style={-, line width=2.5pt},
  tick align=outside, major tick length=9pt,
  ytick={0,0.5,1,1.5,2,2.5}, yticklabels={0.0,0.5,1.0,1.5,2.0,2.5},
  xtick={0,1,2}, xticklabels={miR-487a,miR-219-5p,miR-331-5p},
  xticklabel style={yshift=-5pt},
  ylabel={Relative expression}, ylabel style={at={(axis description cs:-0.147,0.486)}, anchor=center},
  ybar, bar width=0.207, clip=false]
\addplot[fill=barblack, draw=black, line width=2pt, bar shift=-0.265, ebar]
  coordinates {(0,0.994) +- (0,0.058) (1,0.994) +- (0,0.036) (2,0.994) +- (0,0.069)};
\addplot[fill=barlight, draw=black, line width=2pt, bar shift=0, ebar]
  coordinates {(0,1.81) +- (0,0.044) (1,0.607) +- (0,0.05) (2,1.604) +- (0,0.041)};
\addplot[fill=bardark, draw=black, line width=2pt, bar shift=0.265, ebar]
  coordinates {(0,1.946) +- (0,0.084) (1,0.714) +- (0,0.071) (2,0.994) +- (0,0.052)};
\draw[sigline, line width=2pt] (axis cs:-0.265,1.886) -- (axis cs:0,1.886);
\draw[sigline, line width=2pt] (axis cs:-0.265,2.068) -- (axis cs:0.265,2.068);
\draw[sigline, line width=2pt] (axis cs:0.735,1.116) -- (axis cs:1,1.116);
\draw[sigline, line width=2pt] (axis cs:0.735,1.32) -- (axis cs:1.265,1.32);
\draw[sigline, line width=2pt] (axis cs:1.735,1.694) -- (axis cs:2,1.694);
\node[font=\fontsize{24}{24}\selectfont, anchor=base, inner sep=0pt, yshift=-7pt] at (axis cs:-0.125,1.886) {*};
\node[font=\fontsize{24}{24}\selectfont, anchor=base, inner sep=0pt, yshift=-7pt] at (axis cs:0.005,2.068) {*};
\node[font=\fontsize{24}{24}\selectfont, anchor=base, inner sep=0pt, yshift=-7pt] at (axis cs:0.87,1.116) {*};
\node[font=\fontsize{24}{24}\selectfont, anchor=base, inner sep=0pt, yshift=-7pt] at (axis cs:1.05,1.32) {*};
\node[font=\fontsize{24}{24}\selectfont, anchor=base, inner sep=0pt, yshift=-7pt] at (axis cs:1.87,1.694) {*};
\end{axis}
\filldraw[fill=barblack, draw=black, line width=1.5pt] (172pt,-1240pt) rectangle (200pt,-1257pt);
\node[font=\fs, anchor=west, inner sep=0pt] at (203pt,-1249pt) {hFOB};
\filldraw[fill=barlight, draw=black, line width=1.5pt] (272pt,-1240pt) rectangle (299pt,-1257pt);
\node[font=\fs, anchor=west, inner sep=0pt] at (302pt,-1249pt) {HOS};
\filldraw[fill=bardark, draw=black, line width=1.5pt] (366pt,-1240pt) rectangle (393pt,-1257pt);
\node[font=\fs, anchor=west, inner sep=0pt] at (396pt,-1249pt) {MG-63};

% ---------------- Panel G : box GSE65071 ----------------
\node[font=\fs] at (900pt,-1207pt) {GSE65071};
\begin{axis}[bxax, at={(751.5pt,-1229.6pt)}, width=295pt, height=292.4pt,
  xmin=0.40, xmax=2.6, ymin=6.69, ymax=13.2, ytick={7,8,9,10,11,12,13},
  xticklabel style={yshift=-2pt},
  ylabel={miR-487a}, ylabel style={at={(axis description cs:-0.19,0.513)}, anchor=center}]
\addplot[bl] coordinates {(0.62,7.15) (1.38,7.15) (1.38,7.53) (0.62,7.53) (0.62,7.15)};
\addplot[bl] coordinates {(0.62,7.38) (1.38,7.38)};
\addplot[bl] coordinates {(1,6.97) (1,7.73)};
\addplot[bl] coordinates {(0.85,6.97) (1.15,6.97)};
\addplot[bl] coordinates {(0.85,7.73) (1.15,7.73)};
\addplot[bl] coordinates {(1.62,9.73) (2.38,9.73) (2.38,10.67) (1.62,10.67) (1.62,9.73)};
\addplot[bl] coordinates {(1.62,10.42) (2.38,10.42)};
\addplot[bl] coordinates {(2,8.72) (2,11.77)};
\addplot[bl] coordinates {(1.85,8.72) (2.15,8.72)};
\addplot[bl] coordinates {(1.85,11.77) (2.15,11.77)};
\addplot[only marks, mark=*, mark size=3.6pt, ptblue, mark options={draw=none, fill opacity=0.9}] coordinates {
(0.807,8.30) (0.877,7.73) (0.926,7.56) (0.949,7.49) (0.977,7.43) (1.043,7.53) (1.062,7.43) (1.113,7.36) (1.184,7.53) (1.077,7.23) (0.917,7.31) (0.958,7.36) (1.030,7.05) (1.052,6.98) (1.075,6.95) (1.156,7.01) (1.015,7.10) (0.94,7.42)};
\addplot[only marks, mark=*, mark size=3.6pt, ptred, mark options={draw=none, fill opacity=0.9}] coordinates {
(2.089,12.62) (1.810,11.77) (1.910,10.48) (2.075,10.62) (2.170,10.67) (2.057,10.33) (1.881,9.96) (2.136,9.67) (2.023,9.28) (2.060,8.72)};
\addplot[black, line width=2.5pt] coordinates {(1,12.72) (1,12.906) (2,12.906) (2,12.72)};
\node[font=\fontsize{26}{26}\selectfont, anchor=base, inner sep=0pt] at (axis cs:1.5,12.735) {****};
\end{axis}

% ---------------- Panel H : box GSE28423 ----------------
\node[font=\fs] at (1335pt,-1207pt) {GSE28423};
\begin{axis}[bxax, at={(1186pt,-1228pt)}, width=297pt, height=289.6pt,
  xmin=0.409, xmax=2.58, ymin=-0.12, ymax=6.36, ytick={0,2,4,6},
  xticklabel style={yshift=-6pt},
  ylabel={miR-487a}, ylabel style={at={(axis description cs:-0.165,0.503)}, anchor=center}]
\addplot[bl] coordinates {(0.623,0.31) (1.377,0.31) (1.377,1.27) (0.623,1.27) (0.623,0.31)};
\addplot[bl] coordinates {(0.623,0.70) (1.377,0.70)};
\addplot[bl] coordinates {(1,0.17) (1,1.93)};
\addplot[bl] coordinates {(0.858,0.17) (1.142,0.17)};
\addplot[bl] coordinates {(0.858,1.93) (1.142,1.93)};
\addplot[bl] coordinates {(1.623,3.55) (2.377,3.55) (2.377,4.56) (1.623,4.56) (1.623,3.55)};
\addplot[bl] coordinates {(1.623,3.90) (2.377,3.90)};
\addplot[bl] coordinates {(2,3.11) (2,5.80)};
\addplot[bl] coordinates {(1.858,3.11) (2.142,3.11)};
\addplot[bl] coordinates {(1.858,5.80) (2.142,5.80)};
\addplot[only marks, mark=*, mark size=3.8pt, ptblue, mark options={draw=none, fill opacity=0.9}] coordinates {
(1.195,1.95) (0.814,1.04) (0.943,0.35) (1.136,0.17)};
\addplot[only marks, mark=*, mark size=3.8pt, ptred, mark options={draw=none, fill opacity=0.9}] coordinates {
(1.928,5.80) (1.966,5.71) (1.824,4.61) (1.943,4.68) (2.019,4.72) (1.943,4.50) (1.985,4.38) (1.928,4.27) (2.070,4.29) (1.801,3.88) (2.108,3.87) (1.934,3.77) (2.019,3.53) (2.104,3.55) (2.133,3.31) (2.108,3.19) (2.089,3.11) (2.08,3.08)};
\addplot[black, line width=2.5pt] coordinates {(1,5.89) (1,6.07) (2,6.07) (2,5.89)};
\node[font=\fontsize{26}{26}\selectfont, anchor=base, inner sep=0pt] at (axis cs:1.5,6.035) {***};
\end{axis}

% ---------------- panel letters ----------------
\node[font=\fL] at (25pt,-27pt) {A};
\node[font=\fL] at (851pt,-27pt) {B};
\node[font=\fL] at (27pt,-410pt) {C};
\node[font=\fL] at (1048pt,-412pt) {D};
\node[font=\fL] at (25pt,-805pt) {E};
\node[font=\fL] at (25pt,-1198pt) {F};
\node[font=\fL] at (690pt,-1198pt) {G};
\node[font=\fL] at (1128pt,-1198pt) {H};
\end{tikzpicture}
\end{document}
